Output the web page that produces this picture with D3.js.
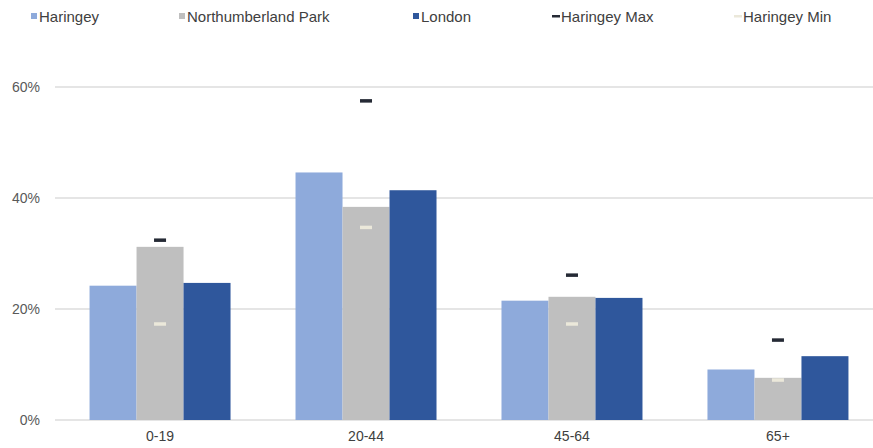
<!DOCTYPE html>
<html>
<head>
<meta charset="utf-8">
<script src="https://cdn.jsdelivr.net/npm/d3@7"></script>
<style>
body { margin: 0; background: #fff; }
text { font-family: "Liberation Sans", Arial, sans-serif; }
</style>
</head>
<body>
<script>
var w = 873;
var h = 448;

var categories = ["0-19", "20-44", "45-64", "65+"];
var series = ["Haringey", "Northumberland Park", "London"];
var haringey = [0.242, 0.446, 0.215, 0.091];
var northumberland = [0.312, 0.384, 0.222, 0.076];
var london = [0.247, 0.414, 0.220, 0.115];
var haringeyMax = [0.324, 0.575, 0.261, 0.144];
var haringeyMin = [0.173, 0.347, 0.173, 0.072];
var yTicks = [0, 0.2, 0.4, 0.6];
var legendLabels = ["Haringey", "Northumberland Park", "London", "Haringey Max", "Haringey Min"];

var colors = ["#8eaadb", "#bfbfbf", "#2f579c"];
var maxColor = "#252a35";
var minColor = "#ebe8da";

var values = [haringey, northumberland, london];

var svg = d3.select("body").append("svg")
    .attr("width", w)
    .attr("height", h);

var xScale = d3.scaleBand()
    .domain(categories)
    .range([57, 881])
    .paddingInner(0.3155)
    .paddingOuter(0.158);

var sScale = d3.scaleBand()
    .domain(series)
    .range([0, xScale.bandwidth()]);

var yScale = d3.scaleLinear()
    .domain([0, 0.6])
    .range([420, 87]);

// gridlines
svg.append("g")
    .selectAll("line")
    .data(yTicks)
    .enter()
    .append("line")
    .attr("x1", 55)
    .attr("x2", w)
    .attr("y1", function(d) { return yScale(d); })
    .attr("y2", function(d) { return yScale(d); })
    .attr("stroke", "#dcdcdc")
    .attr("stroke-width", 1.5);

var yAxis = d3.axisLeft(yScale)
    .tickValues(yTicks)
    .tickFormat(d3.format(".0%"))
    .tickSize(0)
    .tickPadding(0);

var gy = svg.append("g")
    .attr("transform", "translate(40,0)")
    .call(yAxis);
gy.select(".domain").remove();
gy.selectAll("text")
    .attr("font-size", "14px")
    .attr("font-family", "Liberation Sans, Arial, sans-serif")
    .attr("fill", "#595959");

// bars
series.forEach(function(s, si) {
    svg.append("g")
        .selectAll("rect")
        .data(values[si])
        .enter()
        .append("rect")
        .attr("x", function(d, i) { return xScale(categories[i]) + sScale(s); })
        .attr("y", function(d) { return yScale(d); })
        .attr("width", sScale.bandwidth())
        .attr("height", function(d) { return yScale(0) - yScale(d); })
        .attr("fill", colors[si]);
});

// max / min markers over the middle bar
function markers(data, color) {
    svg.append("g")
        .selectAll("rect")
        .data(data)
        .enter()
        .append("rect")
        .attr("x", function(d, i) {
            return xScale(categories[i]) + sScale("Northumberland Park") + sScale.bandwidth() / 2 - 6;
        })
        .attr("y", function(d) { return yScale(d) - 1.75; })
        .attr("width", 12)
        .attr("height", 3.5)
        .attr("fill", color);
}
markers(haringeyMax, maxColor);
markers(haringeyMin, minColor);

var xAxis = d3.axisBottom(xScale)
    .tickSize(0)
    .tickPadding(0);

var gx = svg.append("g")
    .attr("transform", "translate(0,431)")
    .call(xAxis);
gx.select(".domain").remove();
gx.selectAll("text")
    .attr("font-size", "14px")
    .attr("font-family", "Liberation Sans, Arial, sans-serif")
    .attr("fill", "#404040");

// legend
var legendX = [31, 179, 413, 552, 734];
var legendColors = [colors[0], colors[1], colors[2], maxColor, minColor];

var legend = svg.append("g")
    .selectAll("g")
    .data(legendLabels)
    .enter()
    .append("g")
    .attr("transform", function(d, i) { return "translate(" + legendX[i] + ",0)"; });

legend.append("rect")
    .attr("x", 0)
    .attr("y", function(d, i) { return i < 3 ? 13 : 15; })
    .attr("width", function(d, i) { return i < 3 ? 6 : 8; })
    .attr("height", function(d, i) { return i < 3 ? 6 : 2.5; })
    .attr("fill", function(d, i) { return legendColors[i]; });

legend.append("text")
    .attr("x", function(d, i) { return i < 3 ? 8 : 9; })
    .attr("y", 21.5)
    .attr("font-size", "15px")
    .attr("fill", "#404040")
    .text(function(d) { return d; });
</script>
</body>
</html>
